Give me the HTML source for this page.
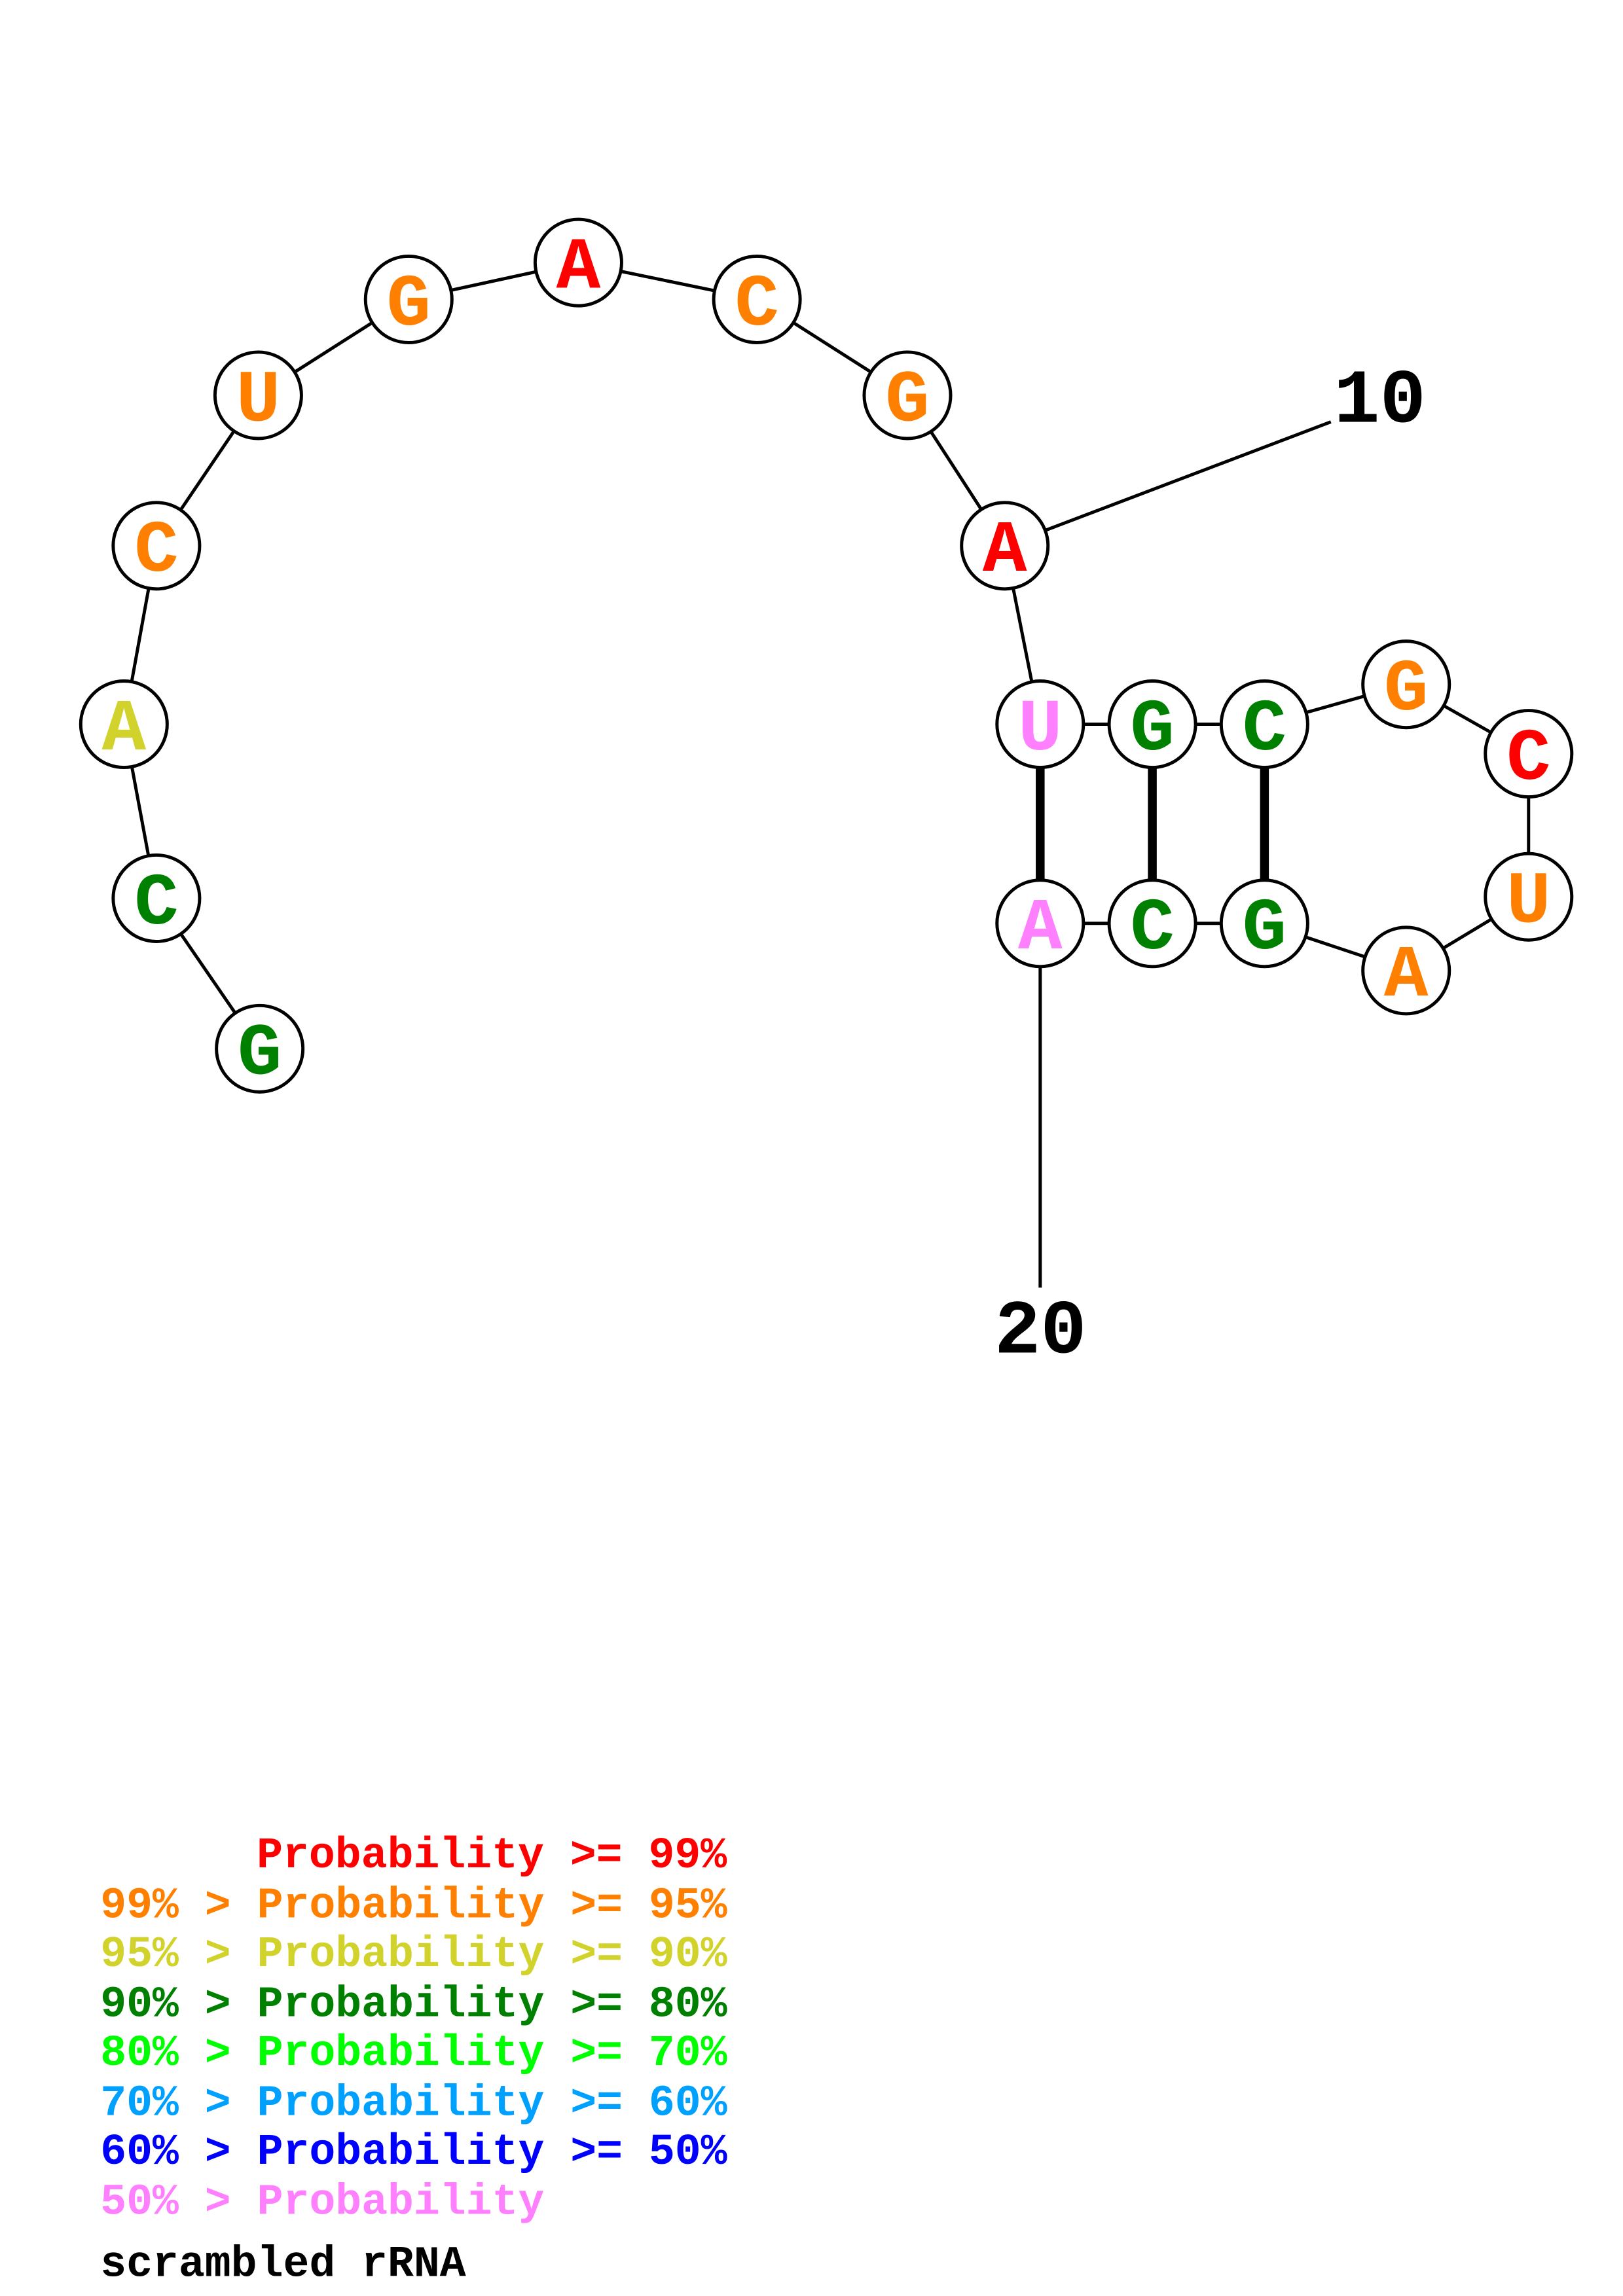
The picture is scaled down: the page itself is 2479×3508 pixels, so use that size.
<!DOCTYPE html>
<html><head><meta charset="utf-8"><style>html,body{margin:0;padding:0;background:#fff}svg{display:block}</style></head>
<body>
<svg width="2479" height="3508" viewBox="0 0 1100 1556.6" xmlns="http://www.w3.org/2000/svg">
<rect width="1100" height="1556.6" fill="#fff"/>
<g stroke="#000" stroke-width="2.2" fill="none">
<polyline points="176,711 106,609 84,491 106,370 175,268 277,203 392,178 513,203 615,268 681,370 705,491 781,491 857,491 953,464 1036,511 1036,608 953,658 857,626 781,626 705,626"/>
<line x1="681" y1="370" x2="902" y2="286"/>
<line x1="705" y1="626" x2="705" y2="873"/>
</g>
<g stroke="#000" stroke-width="6">
<line x1="705" y1="491" x2="705" y2="626"/>
<line x1="781" y1="491" x2="781" y2="626"/>
<line x1="857" y1="491" x2="857" y2="626"/>
</g>
<g fill="#fff" stroke="#000" stroke-width="2.2">
<circle cx="176" cy="711" r="29.3"/><circle cx="106" cy="609" r="29.3"/><circle cx="84" cy="491" r="29.3"/>
<circle cx="106" cy="370" r="29.3"/><circle cx="175" cy="268" r="29.3"/><circle cx="277" cy="203" r="29.3"/>
<circle cx="392" cy="178" r="29.3"/><circle cx="513" cy="203" r="29.3"/><circle cx="615" cy="268" r="29.3"/>
<circle cx="681" cy="370" r="29.3"/><circle cx="705" cy="491" r="29.3"/><circle cx="781" cy="491" r="29.3"/>
<circle cx="857" cy="491" r="29.3"/><circle cx="953" cy="464" r="29.3"/><circle cx="1036" cy="511" r="29.3"/>
<circle cx="1036" cy="608" r="29.3"/><circle cx="953" cy="658" r="29.3"/><circle cx="857" cy="626" r="29.3"/>
<circle cx="781" cy="626" r="29.3"/><circle cx="705" cy="626" r="29.3"/>
</g>
<g font-family="Liberation Mono, monospace" font-weight="bold" font-size="50" text-anchor="middle">
<text x="176" y="728" fill="#008000">G</text>
<text x="106" y="626" fill="#008000">C</text>
<text x="84" y="508" fill="#d2d22d">A</text>
<text x="106" y="387" fill="#ff8000">C</text>
<text x="175" y="285" fill="#ff8000">U</text>
<text x="277" y="220" fill="#ff8000">G</text>
<text x="392" y="195" fill="#ff0000">A</text>
<text x="513" y="220" fill="#ff8000">C</text>
<text x="615" y="285" fill="#ff8000">G</text>
<text x="681" y="387" fill="#ff0000">A</text>
<text x="705" y="508" fill="#ff80ff">U</text>
<text x="781" y="508" fill="#008000">G</text>
<text x="857" y="508" fill="#008000">C</text>
<text x="953" y="481" fill="#ff8000">G</text>
<text x="1036" y="528" fill="#ff0000">C</text>
<text x="1036" y="625" fill="#ff8000">U</text>
<text x="953" y="675" fill="#ff8000">A</text>
<text x="857" y="643" fill="#008000">G</text>
<text x="781" y="643" fill="#008000">C</text>
<text x="705" y="643" fill="#ff80ff">A</text>
</g>
<g font-family="Liberation Mono, monospace" font-weight="bold" font-size="52" fill="#000">
<text x="904" y="286">10</text>
<text x="674" y="917">20</text>
</g>
<g font-family="Liberation Mono, monospace" font-weight="bold" font-size="29.5">
<text x="174" y="1266" fill="#ff0000">Probability &gt;= 99%</text>
<text x="68" y="1300" fill="#ff8000">99% &gt; Probability &gt;= 95%</text>
<text x="68" y="1333" fill="#d2d22d">95% &gt; Probability &gt;= 90%</text>
<text x="68" y="1367" fill="#008000">90% &gt; Probability &gt;= 80%</text>
<text x="68" y="1400" fill="#00ff00">80% &gt; Probability &gt;= 70%</text>
<text x="68" y="1434" fill="#00a0ff">70% &gt; Probability &gt;= 60%</text>
<text x="68" y="1467" fill="#0000ff">60% &gt; Probability &gt;= 50%</text>
<text x="68" y="1501" fill="#ff80ff">50% &gt; Probability</text>
<text x="68" y="1543" fill="#000">scrambled rRNA</text>
</g>
</svg>
</body></html>
